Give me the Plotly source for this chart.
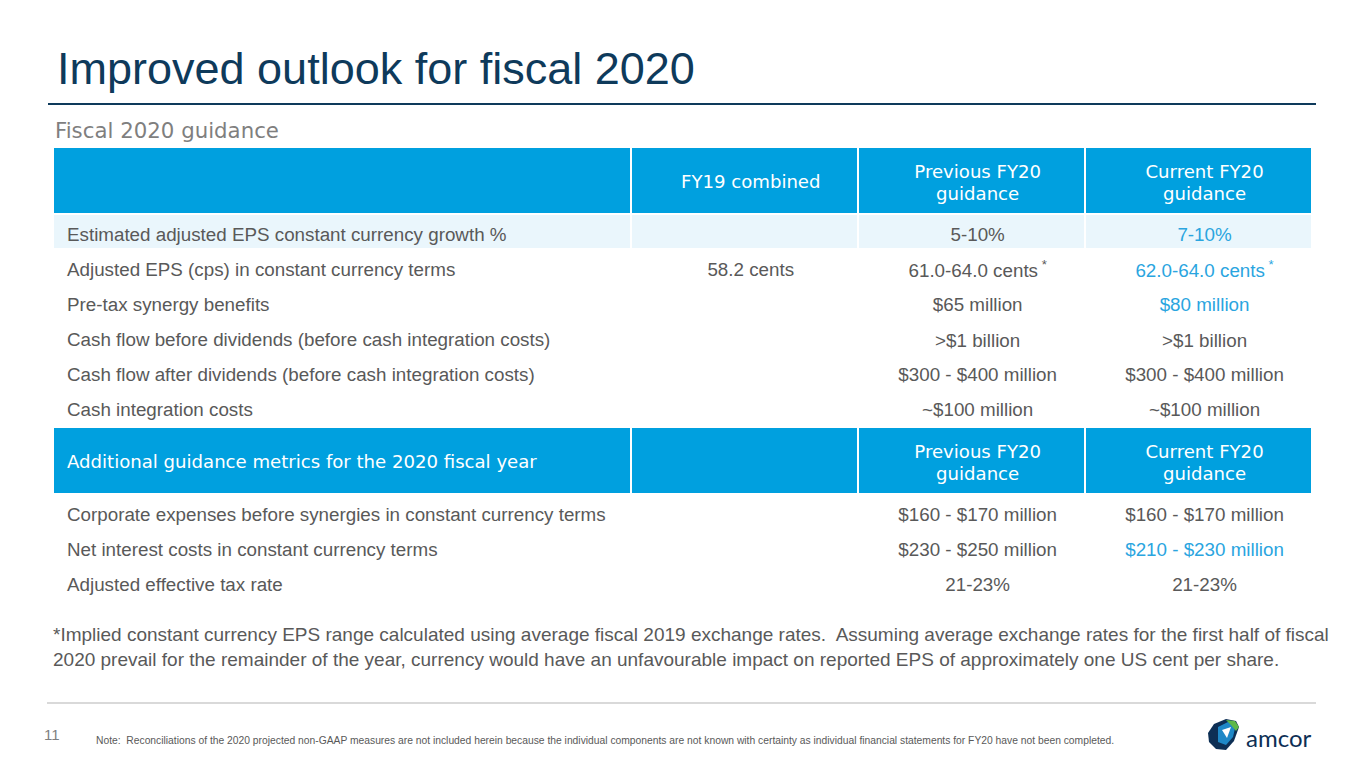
import plotly.graph_objects as go

# page is drawn inside the browser body (8px default margin)
OFF = 8
W, H = 1365 - 2 * OFF, 768 - 2 * OFF

# ---------------- data ----------------
header_main_l1 = ["", "", "Previous FY20", "Current FY20"]
header_main_l2 = ["", "", "guidance", "guidance"]
header_main_single = ["", "FY19 combined", "", ""]
metrics = [
    "Estimated adjusted EPS constant currency growth %",
    "Adjusted EPS (cps) in constant currency terms",
    "Pre-tax synergy benefits",
    "Cash flow before dividends (before cash integration costs)",
    "Cash flow after dividends (before cash integration costs)",
    "Cash integration costs",
]
fy19_combined = ["", "58.2 cents", "", "", "", ""]
previous_fy20 = ["5-10%", "61.0-64.0 cents*", "$65 million", ">$1 billion",
                 "$300 - $400 million", "~$100 million"]
current_fy20 = ["7-10%", "62.0-64.0 cents*", "$80 million", ">$1 billion",
                "$300 - $400 million", "~$100 million"]
current_changed = [True, True, True, False, False, False]

header_add_l1 = ["", "", "Previous FY20", "Current FY20"]
header_add_l2 = ["", "", "guidance", "guidance"]
header_add_single = ["Additional guidance metrics for the 2020 fiscal year", "", "", ""]
add_metrics = [
    "Corporate expenses before synergies in constant currency terms",
    "Net interest costs in constant currency terms",
    "Adjusted effective tax rate",
]
add_fy19 = ["", "", ""]
add_previous = ["$160 - $170 million", "$230 - $250 million", "21-23%"]
add_current = ["$160 - $170 million", "$210 - $230 million", "21-23%"]
add_changed = [False, True, False]

column_widths = [576, 226, 226, 226]

title = "Improved outlook for fiscal 2020"
subtitle = "Fiscal 2020 guidance"
footnote = ("*Implied constant currency EPS range calculated using average fiscal 2019 exchange rates.  "
            "Assuming average exchange rates for the first half of fiscal<br>2020 prevail for the remainder "
            "of the year, currency would have an unfavourable impact on reported EPS of approximately one US cent per share.")
note = ("Note:  Reconciliations of the 2020 projected non-GAAP measures are not included herein because the individual "
        "components are not known with certainty as individual financial statements for FY20 have not been completed.")
page_no = "11"

# ---------------- style ----------------
BLUE = "#00A0DF"
TXT_BLUE = "#2AA5DF"
LIGHT = "#EAF6FC"
GREY = "#595959"
NAVY = "#0E3A5B"
FONT = "Arial, Liberation Sans, sans-serif"
HFONT = "DejaVu Sans, Verdana, sans-serif"
NB = "\u00a0"
CELL_SIZE = 18.8
HDR_SIZE = 18.1
CLEAR = "rgba(0,0,0,0)"
HDR_H, ROW_H = 67, 35
TXT_DX = 6                         # text sits a little right of the cell centre
CELL_SHIFT = 5                     # text offset inside data rows
HDR_SHIFT = {"l1": 9.8, "l2": 31.4, "single": 19.1}
MARKUP_SHIFT = {"sup": -5, "gt": -2}


def px(x):
    return (x - OFF) / W


def py(y):
    return 1 - (y - OFF) / H


def prep(s):
    s = s.replace(" ", NB)
    if s.endswith("*"):
        s = s[:-1] + "<sup>" + NB + "*</sup>"
    return s


def kind(s):
    if s.endswith("*"):
        return "sup"
    if any(ch in s for ch in "<>&"):
        return "gt"
    return "plain"


def fill_table(n_rows, y0, first_fill):
    y1 = y0 + HDR_H + n_rows * ROW_H
    fills = [[(LIGHT if (first_fill and i == 0) else "white") for i in range(n_rows)] for _ in range(4)]
    return go.Table(
        domain=dict(x=[px(53), px(1312)], y=[py(y1), py(y0)]),
        columnwidth=column_widths,
        header=dict(values=["", "", "", ""], fill_color=BLUE, line=dict(color="white", width=2), height=HDR_H),
        cells=dict(values=[[""] * n_rows] * 4, fill_color=fills, line=dict(color="white", width=2), height=ROW_H),
        hoverinfo="skip",
    )


def text_layer(hdr, columns, changed, y0, hdr_shift, cell_kind, cell_shift):
    """One transparent text layer: a header line plus the cells of one kind."""
    n = len(columns[0])
    cols = [[prep(v) if (v and kind(v) == cell_kind) else "" for v in col] for col in columns]
    font_colors = [[GREY] * n, [GREY] * n, [GREY] * n,
                   [TXT_BLUE if c else GREY for c in changed]]
    top = y0 + hdr_shift
    hdr_height = HDR_H + cell_shift - hdr_shift
    y1 = top + hdr_height + n * ROW_H + 40
    return go.Table(
        domain=dict(x=[px(53 + TXT_DX), px(1312 + TXT_DX)], y=[py(y1), py(top)]),
        columnwidth=column_widths,
        header=dict(values=[prep(h) for h in hdr], fill_color=CLEAR, line=dict(color=CLEAR, width=0),
                    height=hdr_height, align=["left", "center", "center", "center"],
                    font=dict(family=HFONT, size=HDR_SIZE, color="white")),
        cells=dict(values=cols, fill_color=CLEAR, line=dict(color=CLEAR, width=0),
                   height=ROW_H, align=["left", "center", "center", "center"],
                   font=dict(family=FONT, size=CELL_SIZE, color=font_colors)),
        hoverinfo="skip",
    )


fig = go.Figure()
T1_TOP, T2_TOP = 147, 427
main_cols = [metrics, fy19_combined, previous_fy20, current_fy20]
add_cols = [add_metrics, add_fy19, add_previous, add_current]
fig.add_trace(fill_table(len(metrics), T1_TOP, True))
fig.add_trace(fill_table(len(add_metrics), T2_TOP, False))

for top, cols, changed, (h1, h2, hs) in [
    (T1_TOP, main_cols, current_changed, (header_main_l1, header_main_l2, header_main_single)),
    (T2_TOP, add_cols, add_changed, (header_add_l1, header_add_l2, header_add_single)),
]:
    fig.add_trace(text_layer(h1, cols, changed, top, HDR_SHIFT["l1"], "plain", CELL_SHIFT))
    fig.add_trace(text_layer(h2, cols, changed, top, HDR_SHIFT["l2"], "sup", CELL_SHIFT + MARKUP_SHIFT["sup"]))
    fig.add_trace(text_layer(hs, cols, changed, top, HDR_SHIFT["single"], "gt", CELL_SHIFT + MARKUP_SHIFT["gt"]))

shapes = [
    dict(type="line", xref="paper", yref="paper", x0=px(48), x1=px(1316), y0=py(104), y1=py(104),
         line=dict(color=NAVY, width=2)),
    dict(type="line", xref="paper", yref="paper", x0=px(47), x1=px(1316), y0=py(703), y1=py(703),
         line=dict(color="#D9D9D9", width=2)),
]


def path(points):
    return "M " + " L ".join(f"{px(a):.5f},{py(b):.5f}" for a, b in points) + " Z"


# simple logo mark
shapes += [
    dict(type="path", xref="paper", yref="paper", line=dict(width=0), fillcolor="#0D2F55",
         path=path([(1214, 724), (1226, 719), (1236, 721), (1239, 727), (1234, 741), (1226, 750),
                    (1216, 749), (1209, 742), (1208, 733)])),
    dict(type="path", xref="paper", yref="paper", line=dict(width=0), fillcolor="#1E88C7",
         path=path([(1218, 727), (1228, 722), (1236, 724), (1233, 737), (1226, 745), (1218, 742)])),
    dict(type="path", xref="paper", yref="paper", line=dict(width=0), fillcolor="#5DB848",
         path=path([(1226, 720), (1235, 721), (1239, 727), (1236, 731), (1231, 725)])),
    dict(type="path", xref="paper", yref="paper", line=dict(width=0), fillcolor="white",
         path=path([(1222, 730), (1231, 727), (1227, 738)])),
]

annotations = [
    dict(text=title, x=px(55), y=py(69), xref="paper", yref="paper", xanchor="left", yanchor="middle",
         showarrow=False, font=dict(family=FONT, size=45, color=NAVY)),
    dict(text=subtitle, x=px(53), y=py(130), xref="paper", yref="paper", xanchor="left", yanchor="middle",
         showarrow=False, font=dict(family=HFONT, size=21.3, color="#7F7F7F")),
    dict(text=footnote, x=px(51), y=py(647), xref="paper", yref="paper", xanchor="left", yanchor="middle",
         align="left", showarrow=False, font=dict(family=FONT, size=19, color=GREY)),
    dict(text=page_no, x=px(42), y=py(734), xref="paper", yref="paper", xanchor="left", yanchor="middle",
         showarrow=False, font=dict(family=FONT, size=15, color="#7F7F7F")),
    dict(text=note, x=px(94), y=py(740), xref="paper", yref="paper", xanchor="left", yanchor="middle",
         showarrow=False, font=dict(family="Liberation Sans Narrow, Arial Narrow, " + FONT, size=10.3, color=GREY)),
    dict(text="amcor", x=px(1244), y=py(737), xref="paper", yref="paper", xanchor="left", yanchor="middle",
         showarrow=False, font=dict(family="Lato, sans-serif", size=24, color="#0D2F55")),
]

fig.update_layout(width=W, height=H, margin=dict(l=0, r=0, t=0, b=0),
                  paper_bgcolor="white", plot_bgcolor="white",
                  shapes=shapes, annotations=annotations, showlegend=False)

fig.write_html("out.html")
